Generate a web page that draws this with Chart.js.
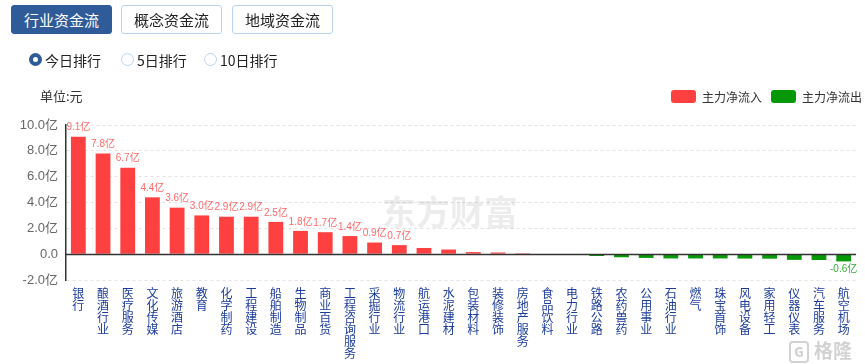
<!DOCTYPE html>
<html>
<head>
<meta charset="utf-8">
<script src="https://cdn.jsdelivr.net/npm/chart.js@4/dist/chart.umd.min.js"></script>
<style>
  html, body { margin: 0; padding: 0; background: #fff; }
  body { width: 865px; height: 364px; position: relative; overflow: hidden;
         font-family: "Microsoft YaHei", "Noto Sans CJK SC", sans-serif; }
  #chart { position: absolute; left: 0; top: 0; }
  .tab { position: absolute; top: 5px; height: 27px; width: 99px; border: 1px solid #b9d3ec;
         border-radius: 3px; box-sizing: content-box; text-align: center; line-height: 27px;
         font-size: 15px; color: #222; background: #fff; }
  .tab.active { background: #2f5b98; border-color: #2f5b98; color: #fff; }
  .radio { position: absolute; top: 51px; font-size: 14px; color: #222; line-height: 18px; }
  .radio i { position: absolute; left: -16px; top: 2px; width: 11px; height: 11px; border-radius: 50%;
             border: 1px solid #b9d3ec; box-sizing: content-box; }
  .radio.on i { width: 5px; height: 5px; border: 4px solid #2f5b98; background: #fff; }
  .unit { position: absolute; left: 40px; top: 86px; font-size: 13px; color: #333; }
  .legend { position: absolute; top: 89px; font-size: 12px; color: #333; line-height: 15px; }
  .legend i { position: absolute; left: -31px; top: 1px; width: 25px; height: 13px; border-radius: 3px; }
  .gl { position: absolute; left: 789px; top: 336px; font-size: 19px; color: #d2d2d2; font-weight: bold; }
  .gl b { display: inline-block; width: 16px; height: 18px; border: 2px solid #d2d2d2; border-radius: 4px;
          font-size: 13px; line-height: 18px; text-align: center; margin-right: 5px; vertical-align: 1px; }
</style>
</head>
<body>
<canvas id="chart" width="865" height="364"></canvas>
<div class="tab active" style="left:11px">行业资金流</div>
<div class="tab" style="left:121px">概念资金流</div>
<div class="tab" style="left:232px">地域资金流</div>
<div class="radio on" style="left:45px"><i></i>今日排行</div>
<div class="radio" style="left:137px"><i></i>5日排行</div>
<div class="radio" style="left:220px"><i></i>10日排行</div>
<div class="unit">单位:元</div>
<div class="legend" style="left:702px"><i style="background:#ff4040"></i>主力净流入</div>
<div class="legend" style="left:802px"><i style="background:#069806"></i>主力净流出</div>
<div class="gl"><b>G</b>格隆汇</div>
<script>
// 行业主力资金净流向 (亿)
const industries = ['银行', '酿酒行业', '医疗服务', '文化传媒', '旅游酒店', '教育', '化学制药', '工程建设',
    '船舶制造', '生物制品', '商业百货', '工程咨询服务', '采掘行业', '物流行业', '航运港口', '水泥建材',
    '包装材料', '装修装饰', '房地产服务', '食品饮料', '电力行业', '铁路公路', '农药兽药', '公用事业',
    '石油行业', '燃气', '珠宝首饰', '风电设备', '家用轻工', '仪器仪表', '汽车服务', '航空机场'];
const netFlow = [9.1, 7.8, 6.7, 4.4, 3.6, 3.0, 2.9, 2.9, 2.5, 1.8, 1.7, 1.4, 0.9, 0.7, 0.48, 0.36,
    0.16, 0.13, 0.07, 0.04, -0.02, -0.14, -0.24, -0.29, -0.33, -0.33, -0.33, -0.34, -0.35, -0.44, -0.45, -0.56];
const yTicks = [-2, 0, 2, 4, 6, 8, 10];

const inflow = netFlow.map(v => v > 0 ? v : null);
const outflow = netFlow.map(v => v < 0 ? v : null);

const FONT = '"Microsoft YaHei", "Noto Sans CJK SC", sans-serif';
const NUM_FONT = 'Arial, "Liberation Sans", "Noto Sans CJK SC", sans-serif';

// watermark, zero line + bar value labels
const flowLabelPlugin = {
    id: 'flowLabels',
    beforeDatasetsDraw(chart) {
        const { ctx } = chart;
        ctx.save();
        ctx.font = 'bold 34px ' + FONT;
        ctx.fillStyle = 'rgba(0,0,0,0.075)';
        ctx.textAlign = 'left';
        ctx.textBaseline = 'middle';
        ctx.fillText('东方财富', 382, 212);
        ctx.restore();
    },
    afterDatasetsDraw(chart) {
        const { ctx, chartArea, scales: { y } } = chart;
        ctx.save();
        const y0 = Math.round(y.getPixelForValue(0)) + 0.5;
        ctx.strokeStyle = '#333';
        ctx.lineWidth = 1.5;
        ctx.beginPath();
        ctx.moveTo(chartArea.left, y0);
        ctx.lineTo(chartArea.right, y0);
        ctx.stroke();

        ctx.font = '10px ' + NUM_FONT;
        ctx.textAlign = 'center';
        chart.data.datasets.forEach((ds, di) => {
            const meta = chart.getDatasetMeta(di);
            meta.data.forEach((bar, i) => {
                const v = ds.data[i];
                if (v === null || Math.abs(v) < 0.5) return;
                if (v > 0) {
                    ctx.fillStyle = '#ff6a6a';
                    ctx.textBaseline = 'bottom';
                    ctx.fillText(v.toFixed(1) + '亿', bar.x, bar.y - 4);
                } else {
                    ctx.fillStyle = '#3aa83a';
                    ctx.textBaseline = 'top';
                    ctx.fillText(v.toFixed(1) + '亿', bar.x, bar.y + 3);
                }
            });
        });
        ctx.restore();
    }
};

new Chart(document.getElementById('chart'), {
    type: 'bar',
    data: {
        labels: industries.map(s => s.split('')),
        datasets: [
            { label: '主力净流入', data: inflow, backgroundColor: '#ff4040' },
            { label: '主力净流出', data: outflow, backgroundColor: '#069806' }
        ]
    },
    plugins: [flowLabelPlugin],
    options: {
        responsive: false,
        animation: false,
        barPercentage: 0.6,
        categoryPercentage: 1,
        layout: { padding: { top: 125, right: 9, bottom: 0, left: 0 } },
        plugins: { legend: { display: false }, tooltip: { enabled: false } },
        scales: {
            x: {
                stacked: true,
                afterFit(scale) { scale.height = 84; },
                grid: { display: false, drawTicks: false },
                border: { display: false },
                ticks: {
                    autoSkip: false, maxRotation: 0, minRotation: 0, padding: 7,
                    color: '#1c3c9c',
                    font: { family: FONT, size: 12, lineHeight: 1 }
                }
            },
            y: {
                stacked: true,
                min: -2, max: 10,
                afterFit(scale) { scale.width = 66; },
                afterBuildTicks(scale) { scale.ticks = yTicks.map(v => ({ value: v })); },
                border: { display: true, color: '#333', width: 1.5, dash: [3, 3] },
                grid: { color: '#e2e2e2', drawTicks: false },
                ticks: {
                    padding: 8, color: '#666',
                    font: { family: NUM_FONT, size: 13 },
                    callback: v => v === 0 ? '0.0' : v.toFixed(1) + '亿'
                }
            }
        }
    }
});
</script>
</body>
</html>
